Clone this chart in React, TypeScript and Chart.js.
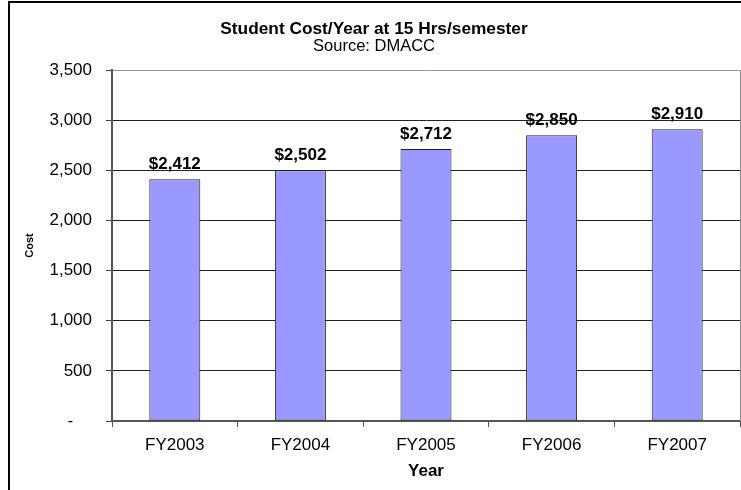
import { useEffect, useRef } from 'react';
import { Chart, registerables } from 'chart.js';

Chart.register(...registerables);

const categories = ['FY2003', 'FY2004', 'FY2005', 'FY2006', 'FY2007'];
const costValues = [2412, 2502, 2712, 2850, 2910];
const yMin = 0;
const yMax = 3500;
const yStep = 500;
const chartTitle = 'Student Cost/Year at 15 Hrs/semester';
const chartSubtitle = 'Source: DMACC';
const xAxisTitle = 'Year';
const yAxisTitle = 'Cost';

const FONT = '"Liberation Sans", Arial, Helvetica, sans-serif';
const CANVAS_W = 748;
const CANVAS_H = 500;

const barLabelPlugin = {
  id: 'barLabels',
  afterDatasetsDraw(chart: any) {
    const ctx = chart.ctx;
    const meta = chart.getDatasetMeta(0);
    const data = chart.data.datasets[0].data as number[];
    ctx.save();
    ctx.font = `bold 17px ${FONT}`;
    ctx.fillStyle = '#000';
    ctx.textAlign = 'center';
    ctx.textBaseline = 'alphabetic';
    meta.data.forEach((bar: any, i: number) => {
      const v = data[i];
      ctx.fillText('$' + v.toLocaleString('en-US'), bar.x, bar.y - 10.5);
    });
    ctx.restore();
  },
};

const framePlugin = {
  id: 'frame',
  afterDraw(chart: any) {
    const ctx = chart.ctx;
    const a = chart.chartArea;
    ctx.save();
    ctx.strokeStyle = '#8c8c8c';
    ctx.lineWidth = 1;
    ctx.beginPath();
    ctx.moveTo(Math.round(a.right) + 0.5, a.top);
    ctx.lineTo(Math.round(a.right) + 0.5, a.bottom);
    ctx.stroke();
    ctx.strokeStyle = '#000';
    ctx.lineWidth = 2;
    ctx.strokeRect(1, 1, chart.width - 2, chart.height - 2);
    ctx.restore();
  },
};

export default function App() {
  const canvasRef = useRef<HTMLCanvasElement | null>(null);

  useEffect(() => {
    const canvas = canvasRef.current;
    if (!canvas) return;
    const chart = new Chart(canvas, {
      type: 'bar',
      data: {
        labels: categories,
        datasets: [
          {
            data: costValues,
            backgroundColor: '#9999ff',
            borderColor: '#222222',
            borderWidth: 1,
            borderSkipped: false,
            barPercentage: 0.406,
            categoryPercentage: 1,
          },
        ],
      },
      options: {
        animation: false,
        responsive: false,
        devicePixelRatio: 1,
        layout: { padding: { left: 0, right: 16, top: 0, bottom: 0 } },
        plugins: {
          legend: { display: false },
          tooltip: { enabled: false },
          title: {
            display: true,
            text: chartTitle,
            color: '#000',
            font: { family: FONT, size: 17.3, weight: 'bold', lineHeight: 1 },
            padding: { top: 19.3, bottom: 0 },
          },
          subtitle: {
            display: true,
            text: chartSubtitle,
            color: '#000',
            font: { family: FONT, size: 16.5, weight: 'normal', lineHeight: 1 },
            padding: { top: 1, bottom: 15 },
          },
        },
        scales: {
          x: {
            offset: true,
            grid: {
              display: true,
              offset: true,
              drawOnChartArea: false,
              drawTicks: true,
              tickLength: 6,
              tickColor: '#555',
            },
            border: { display: true, color: '#555', width: 2 },
            ticks: {
              color: '#000',
              padding: 8,
              font: { family: FONT, size: 17 },
              maxRotation: 0,
            },
            title: {
              display: true,
              text: xAxisTitle,
              color: '#000',
              font: { family: FONT, size: 17, weight: 'bold', lineHeight: 1.2 },
              padding: { top: 0, bottom: 19.8 },
            },
            afterFit(scale: any) {
              scale.height = 80;
            },
          },
          y: {
            min: yMin,
            max: yMax,
            ticks: {
              stepSize: yStep,
              color: '#000',
              padding: 14,
              font: { family: FONT, size: 17 },
              callback: (v: any) => (Number(v) === 0 ? '-    ' : Number(v).toLocaleString('en-US')),
            },
            grid: {
              color: (c: any) => (c.tick && c.tick.value === yMax ? '#999' : '#222'),
              tickColor: '#444',
              tickLength: 6,
              drawTicks: true,
            },
            border: { display: true, color: '#555', width: 2 },
            title: {
              display: true,
              text: yAxisTitle,
              color: '#000',
              font: { family: FONT, size: 11, weight: 'bold', lineHeight: 1.2 },
              padding: { top: 15.4, bottom: 0 },
            },
            afterFit(scale: any) {
              scale.width = 104;
            },
          },
        },
      },
      plugins: [barLabelPlugin, framePlugin],
    } as any);
    return () => chart.destroy();
  }, []);

  return (
    <div
      style={{
        position: 'fixed',
        left: 0,
        top: 0,
        width: 741,
        height: 490,
        overflow: 'hidden',
        background: '#fff',
      }}
    >
      <canvas
        ref={canvasRef}
        width={CANVAS_W}
        height={CANVAS_H}
        style={{ position: 'absolute', left: 8, top: 1, width: CANVAS_W, height: CANVAS_H }}
      />
    </div>
  );
}
